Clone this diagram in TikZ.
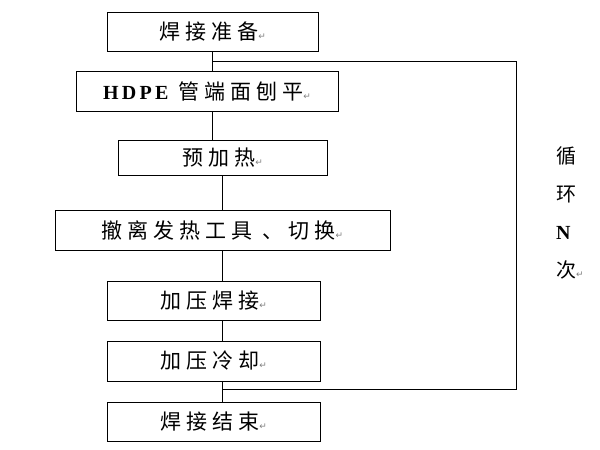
\documentclass[tikz,border=0pt]{standalone}
\usepackage{fontspec}
\setmainfont{Liberation Serif}
\newfontfamily\cjk[LetterSpace=24]{Noto Sans CJK SC}
\newfontfamily\latinsp[LetterSpace=16]{Liberation Serif}
\newfontfamily\marksym{DejaVu Sans}
\usepackage{tikz}
\newcommand{\pmark}{{\marksym\fontsize{9}{10}\selectfont\color{gray}\char"21B5}}
\newcommand{\latin}[1]{{\latinsp\bfseries\fontsize{20}{22}\selectfont #1}}

\begin{document}
\begin{tikzpicture}[
    x=1pt, y=-1pt,
    box/.style={rectangle, draw, line width=0.8pt, inner sep=0pt, align=center,
        font=\cjk\fontsize{21}{23}\selectfont},
    line/.style={line width=0.8pt}
]
    \useasboundingbox (0,0) rectangle (600,450);

    \node[box, minimum width=211pt, minimum height=39pt] (prep) at (212.5,31.5) {\raisebox{-5pt}{焊接准备\pmark}};
    \node[box, minimum width=262pt, minimum height=40pt] (plane) at (207,91) {\raisebox{-5pt}{\latin{HDPE} 管端面刨平\pmark}};
    \node[box, minimum width=209pt, minimum height=35pt] (preheat) at (222.5,157.5) {\raisebox{-5pt}{预加热\pmark}};
    \node[box, minimum width=335pt, minimum height=40pt] (remove) at (222.5,230) {\raisebox{-5pt}{撤离发热工具 、切换\pmark}};
    \node[box, minimum width=213pt, minimum height=39pt] (press) at (213.5,300.5) {\raisebox{-5pt}{加压焊接\pmark}};
    \node[box, minimum width=213pt, minimum height=40pt] (cool) at (213.5,361) {\raisebox{-5pt}{加压冷却\pmark}};
    \node[box, minimum width=213pt, minimum height=39pt] (done) at (213.5,421.5) {\raisebox{-5pt}{焊接结束\pmark}};

    \node[align=left, inner sep=0pt, anchor=north west,
        font=\cjk\fontsize{20}{38}\selectfont] (repeat) at (556,146)
        {循\\环\\\latin{N}\\次\pmark};

    \coordinate (loopout) at (212.5,61);
    \coordinate (loopin) at (223,389);
    \coordinate (loopright) at (516,61);

    \draw[line] (prep.south) -- (prep.south |- plane.north);
    \draw[line] (prep.south |- plane.south) -- (prep.south |- preheat.north);
    \draw[line] (preheat.south) -- (remove.north);
    \draw[line] (remove.south) -- (remove.south |- press.north);
    \draw[line] (remove.south |- press.south) -- (remove.south |- cool.north);
    \draw[line] (remove.south |- cool.south) -- (remove.south |- done.north);
    \draw[line] (loopout) -- (loopright) |- (loopin);
\end{tikzpicture}
\end{document}
